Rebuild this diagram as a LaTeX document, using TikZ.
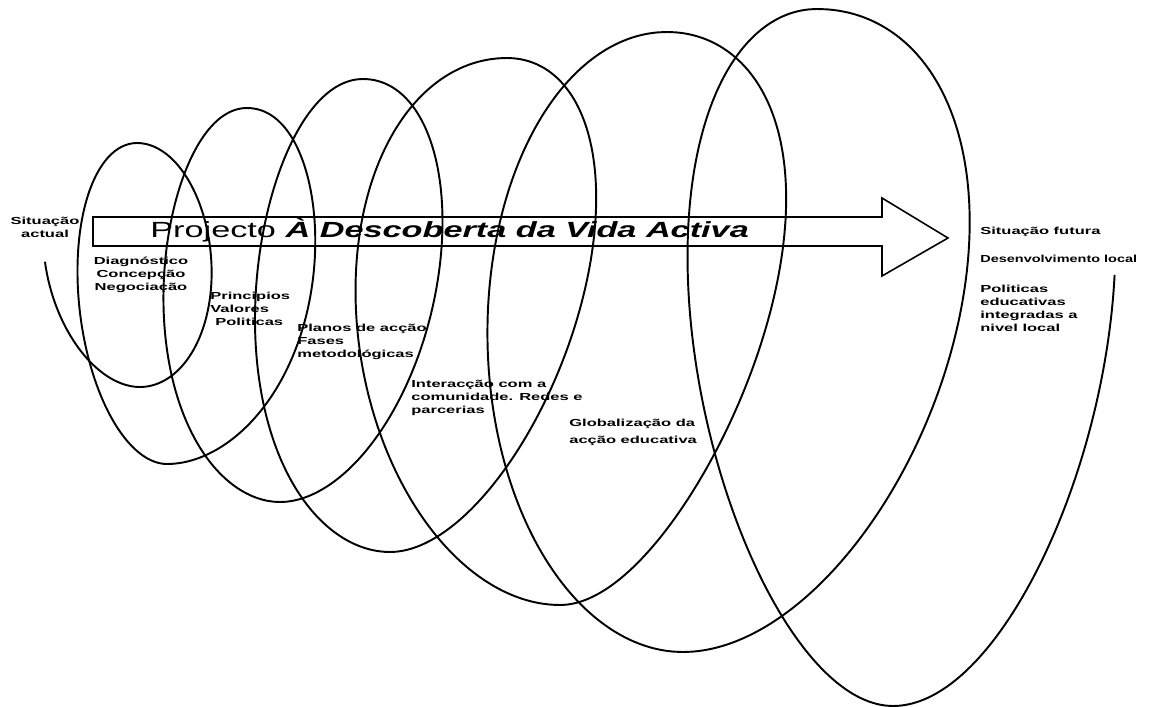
\documentclass[tikz,border=0pt]{standalone}
\usepackage{fontspec}
\setmainfont{Liberation Sans}
\newfontfamily\lblfont[FakeStretch=1.62]{Liberation Sans}
\newfontfamily\narrowfont[FakeStretch=1.42]{Liberation Sans}
\newfontfamily\bannerfont[FakeStretch=1.56]{Liberation Sans}

% half a turn of the coil: bottom (#1,#2), top (#3,#4),
% width at the bottom #5 and at the top #6, angles #7 to #8
\newcommand{\halfloop}[8]{%
  \draw[coil] plot[domain=#7:#8, samples=60, smooth, variable=\t]
    ({(#1+#3)/2 + ((#5)*(1+cos(\t))/2 + (#6)*(1-cos(\t))/2)*sin(\t) - ((#3-#1)/2)*cos(\t)},
     {(#2+#4)/2 + ((#2-#4)/2)*cos(\t)});
}

\begin{document}
\begin{tikzpicture}[
    x=0.02cm, y=-0.02cm,
    coil/.style={line width=1.1pt, line join=round, line cap=round},
    bigarrow/.style={line width=0.9pt, line join=miter},
    lbl/.style={inner sep=0pt, anchor=base west, align=left, font=\lblfont\bfseries\fontsize{5.8pt}{7.4pt}\selectfont},
    banner/.style={inner sep=0pt, anchor=base west, font=\bannerfont\fontsize{12.5pt}{14pt}\selectfont}
]
\useasboundingbox (0,0) rectangle (1157,707);

% The coil, one turn after the other
\halfloop{140}{387}{100}{150}{74}{74}{267}{360}
% turn 1
\halfloop{140}{387}{137}{143}{76}{70}{0}{180}
\halfloop{167}{464}{137}{143}{73}{73}{180}{360}
% turn 2
\halfloop{167}{464}{247}{108}{119}{91}{0}{180}
\halfloop{280}{502}{247}{108}{113}{87}{180}{360}
% turn 3
\halfloop{280}{502}{363}{79}{117}{112}{0}{180}
\halfloop{390}{552}{363}{79}{137}{106}{180}{360}
% turn 4
\halfloop{390}{552}{507}{58}{125}{140}{0}{180}
\halfloop{560}{605}{507}{58}{176}{176}{180}{360}
% turn 5
\halfloop{560}{605}{667}{32}{130}{180}{0}{180}
\halfloop{683}{652}{667}{32}{190}{185}{180}{360}
% turn 6
\halfloop{683}{652}{817}{9}{198}{215}{0}{180}
\halfloop{893}{706}{817}{9}{148}{172}{180}{360}
% last piece
\halfloop{893}{706}{967}{-17}{160}{195}{0}{101}

% Big arrow
\draw[bigarrow] (93,217) -- (882,217) -- (882,198) -- (948,238) -- (882,276)
    -- (882,246) -- (93,246) -- cycle;
\node[banner] (projecto) at (150,237) {Projecto \textbf{\textit{À Descoberta da Vida Activa}}};

% Labels along the coil
\node[lbl, anchor=base, align=center] (actual) at (45,237) {Situação\\actual};
\node[lbl, anchor=base, align=center] (diagnostico) at (141,290) {Diagnóstico\\Concepção\\Negociação};
\node[lbl] (principios) at (210,325) {Principios\\Valores\\\hspace*{2.8pt}Politicas};
\node[lbl] (planos) at (297,357) {Planos de acção\\Fases\\metodológicas};
\node[lbl] (interaccao) at (411,413) {Interacção com a\\comunidade. Redes e\\parcerias};
\node[lbl] (globalizacao) at (569,443) {Globalização da\\[2pt]acção educativa};

% Right hand side
\node[lbl] (futura) at (980,234) {Situação futura};
\node[lbl, font=\narrowfont\bfseries\fontsize{5.8pt}{7.4pt}\selectfont] (desenvolvimento) at (980,262) {Desenvolvimento local};
\node[lbl] (politicas) at (980,331) {Politicas\\educativas\\integradas a\\nivel local};

\end{tikzpicture}
\end{document}
